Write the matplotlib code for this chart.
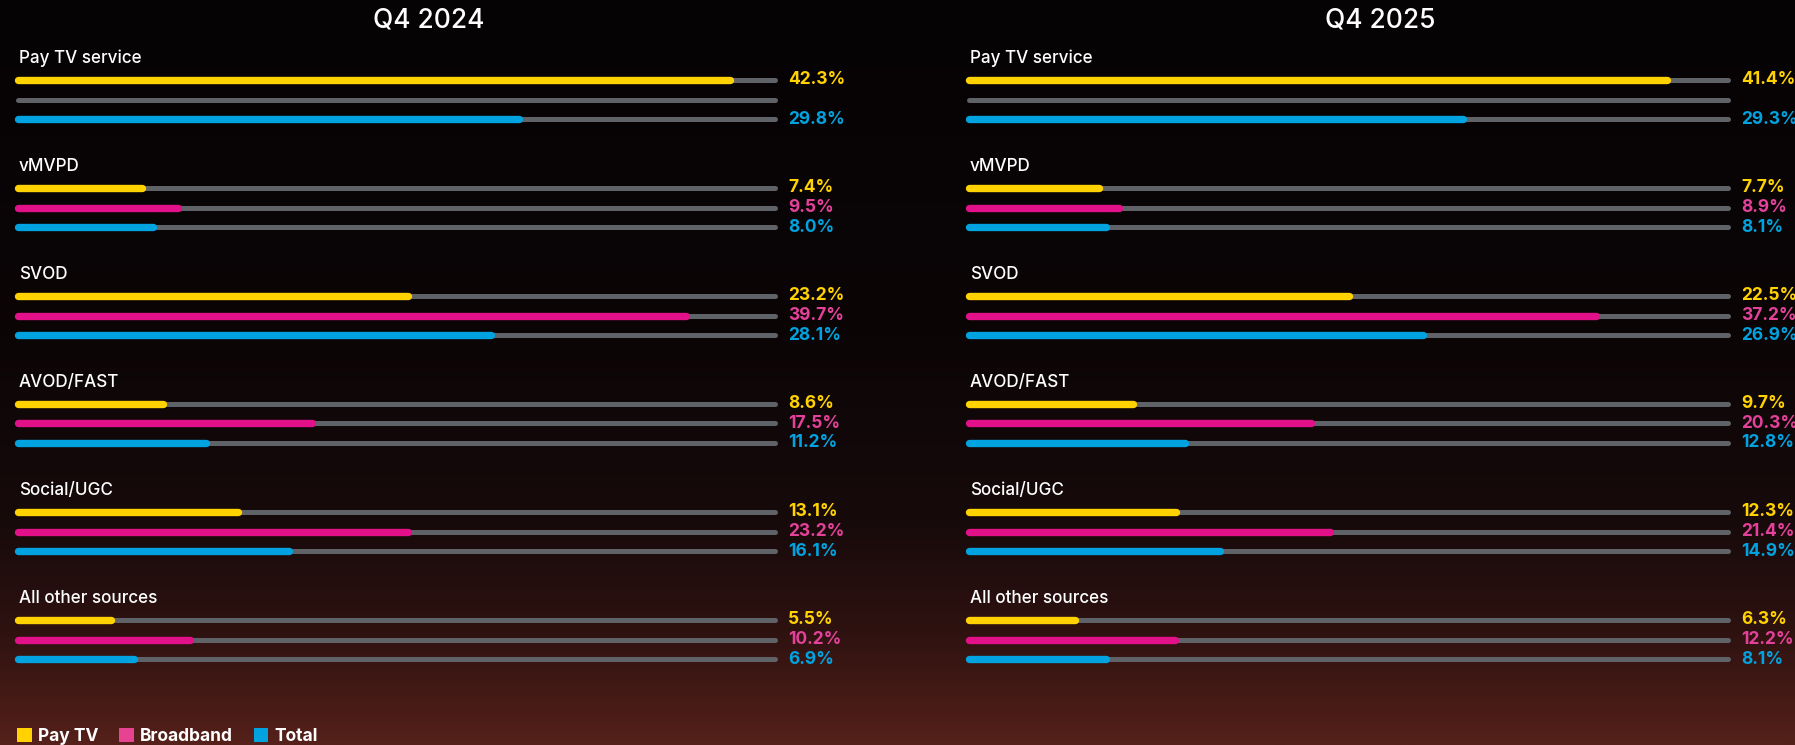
import numpy as np
import matplotlib
matplotlib.use("Agg")
import matplotlib.pyplot as plt
from matplotlib.colors import LinearSegmentedColormap
from matplotlib.patches import Patch

plt.rcParams['font.family'] = ['Inter', 'DejaVu Sans']

# data
categories = ["Pay TV service", "vMVPD", "SVOD", "AVOD/FAST", "Social/UGC", "All other sources"]
series = ["Pay TV", "Broadband", "Total"]
periods = ["Q4 2024", "Q4 2025"]

pay_tv_2024 = [42.3, 7.4, 23.2, 8.6, 13.1, 5.5]
broadband_2024 = [None, 9.5, 39.7, 17.5, 23.2, 10.2]
total_2024 = [29.8, 8.0, 28.1, 11.2, 16.1, 6.9]

pay_tv_2025 = [41.4, 7.7, 22.5, 9.7, 12.3, 6.3]
broadband_2025 = [None, 8.9, 37.2, 20.3, 21.4, 12.2]
total_2025 = [29.3, 8.1, 26.9, 12.8, 14.9, 8.1]

scale_max = 45

bar_colors = ['#FFD200', '#E2118A', '#00A3DF']
text_colors = ['#FFD200', '#E4419A', '#00A3DF']
legend_colors = ['#FFD200', '#E84393', '#00A3DF']
track_color = '#5f6267'

W, H = 1795, 745
fig = plt.figure(figsize=(W / 100, H / 100), dpi=100)

# background gradient (black -> dark maroon at the bottom)
bg = fig.add_axes([0, 0, 1, 1], zorder=-10)
cmap = LinearSegmentedColormap.from_list(
    'bg', [(0, '#060304'), (0.45, '#0b0506'), (0.7, '#170a0b'),
           (0.85, '#2e1210'), (1.0, '#55201a')])
grad = np.linspace(0, 1, 400).reshape(-1, 1)
bg.imshow(grad, cmap=cmap, aspect='auto', extent=[0, 1, 1, 0])
bg.set_axis_off()

# layout: one row unit = spacing between bars inside a group
row_px = 19.5
group_pitch = 108 / row_px
first_row_px = 80
y_top = -first_row_px / row_px
y_bot = (H - first_row_px) / row_px

panels = [
    (18, 757, [pay_tv_2024, broadband_2024, total_2024]),
    (969, 759, [pay_tv_2025, broadband_2025, total_2025]),
]

for (left_px, track_w, data), period in zip(panels, periods):
    ax = fig.add_axes([left_px / W, 0, track_w / W, 1])
    ax.set_xlim(0, scale_max)
    ax.set_ylim(y_bot, y_top)
    ax.set_axis_off()
    ax.patch.set_alpha(0)

    for g, cat in enumerate(categories):
        base = g * group_pitch
        ax.annotate(cat, xy=(0, base - 1.1), xytext=(1, 0), textcoords='offset pixels',
                    ha='left', va='center', color='white', fontsize=12.3,
                    fontweight='medium')
        for s in range(3):
            y = base + s
            ax.plot([0, scale_max], [y, y], color=track_color, lw=3.6,
                    solid_capstyle='round', zorder=1, clip_on=False)
            v = data[s][g]
            if v is None:
                continue
            ax.plot([0, v], [y, y], color=bar_colors[s], lw=5.3,
                    solid_capstyle='round', zorder=2, clip_on=False)
            ax.annotate(f"{v:.1f}%", xy=(scale_max, y), xytext=(13, 0),
                        textcoords='offset pixels', ha='left', va='center',
                        color=text_colors[s], fontsize=12.5, fontweight='bold')

    ax.text(0.542, (20.6 - first_row_px) / row_px, period, transform=ax.get_yaxis_transform(),
            ha='center', va='center', color='white', fontsize=19, fontweight='medium')

handles = [Patch(facecolor=c, edgecolor='none') for c in legend_colors]
leg = fig.legend(handles, series, loc='lower left', bbox_to_anchor=(17 / W, 0),
                 ncol=3, frameon=False, fontsize=12.5, handlelength=0.85, handleheight=0.9,
                 handletextpad=0.35, columnspacing=1.2, borderpad=0, borderaxespad=0)
for t in leg.get_texts():
    t.set_color('white')
    t.set_fontweight('bold')

fig.savefig('out.png', dpi=100, facecolor='black')
